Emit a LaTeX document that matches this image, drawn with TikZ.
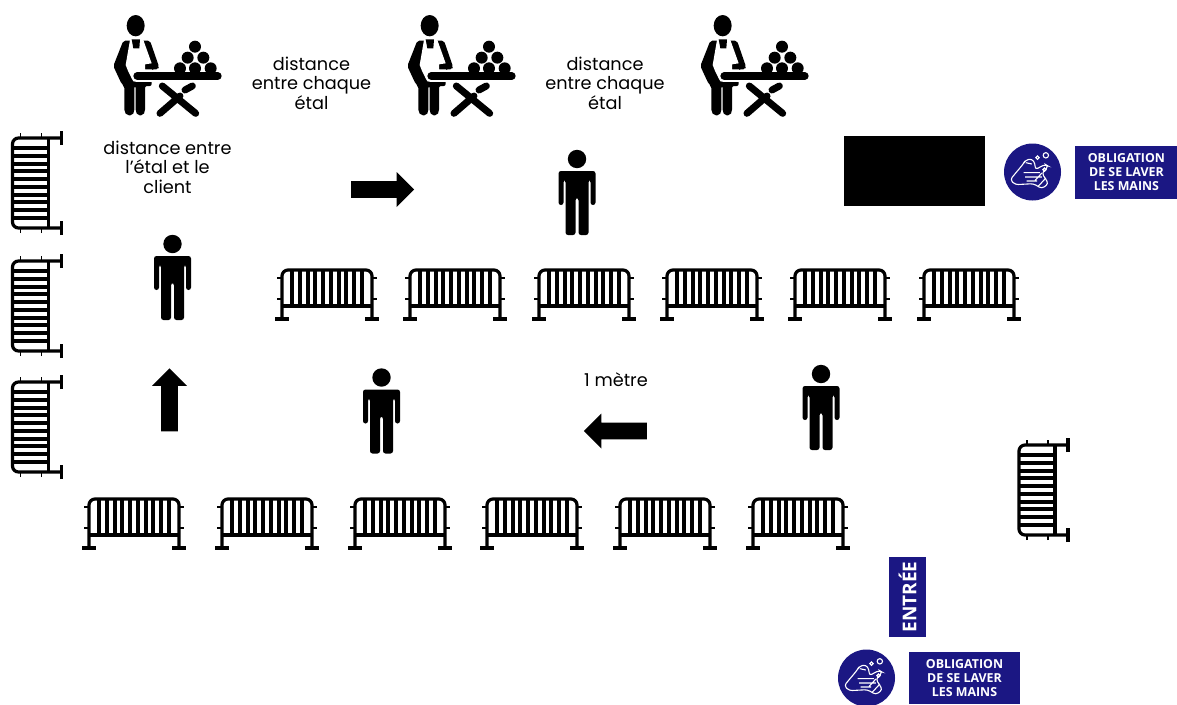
\documentclass[tikz,border=0pt]{standalone}
\usepackage{fontspec}
\setmainfont{Poppins}
\newfontfamily\signfont{Open Sans}
\usepackage{xcolor}
\usepackage{tikz}
\usetikzlibrary{shapes.arrows,positioning}
\definecolor{signblue}{HTML}{1B1783}

\tikzset{
    barrier/.pic={
        \draw[line width=3.2pt, rounded corners=6pt] (-45,24) -- (-45,-25) -- (45,-25) -- (45,24);
        \draw[line width=3.2pt] (-45,11) -- (45,11);
        \draw[line width=4pt] (-35,-25) -- (-35,11) (-27.2,-25) -- (-27.2,11) (-19.4,-25) -- (-19.4,11)
            (-11.6,-25) -- (-11.6,11) (-3.9,-25) -- (-3.9,11) (3.9,-25) -- (3.9,11) (11.6,-25) -- (11.6,11)
            (19.4,-25) -- (19.4,11) (27.2,-25) -- (27.2,11) (35,-25) -- (35,11);
        \draw[line width=3.2pt] (-52,24) -- (-38,24) (38,24) -- (52,24);
        \draw[line width=1.4pt] (-50,-17) -- (-45,-17) (-50,4) -- (-45,4) (45,-17) -- (50,-17) (45,4) -- (50,4);
    },
    person/.pic={
        \fill (0,-34) circle (9.2);
        \fill[rounded corners=2.5pt] (-18.5,12) -- (-18.5,-22) -- (18.5,-22) -- (18.5,12) -- (13.5,12)
            -- (13.5,-13) -- (11.5,-13) -- (11.5,42) -- (1.5,42) -- (1.5,5) -- (-1.5,5) -- (-1.5,42)
            -- (-11.5,42) -- (-11.5,-13) -- (-13.5,-13) -- (-13.5,12) -- cycle;
    },
    vendor/.pic={
        \begin{scope}[scale=1/3]
        \fill (92,47) ellipse (27 and 32);
        \fill[rounded corners=2pt] (55,92) -- (135,92) -- (162,170) -- (160,178) -- (140,178) -- (140,228) -- (120,228)
            -- (120,305) -- (114,316) -- (98,316) -- (92,305) -- (92,228) -- (88,228) -- (88,305) -- (82,316)
            -- (66,316) -- (58,305) -- (58,228) -- (50,222) -- (35,190) -- (25,168) -- cycle;
        \fill[white] (75,90) -- (62,165) -- (70,185) -- (85,214) -- (141,214) -- (141,178) -- (120,178) -- (120,163)
            -- (140,160) -- (115,90) -- cycle;
        \fill (80,88) -- (105,88) -- (103,115) -- (85,115) -- cycle;
        \draw[white, line width=12pt, line cap=round] (97,198) -- (160,198);
        \fill (225,175) circle (18) (270,175) circle (18) (317,175) circle (18)
            (248,143) circle (18) (295,143) circle (18) (270,110) circle (18);
        \draw[line width=8pt, line cap=round] (97,198) -- (338,198);
        \draw[line width=7pt, line cap=round] (172,228) -- (272,310) (165,310) -- (225,258) (240,240) -- (262,228);
        \end{scope}
    },
    hands/.pic={
        \begin{scope}[scale=1/3, white, line width=1.1pt, rounded corners=3pt]
        \draw (-67,23) -- (-27,-25) -- (-22,-35) -- (-2,-40) -- (8,-25) -- (8,-7) -- (38,-23) -- (48,-17) -- (28,3) -- (48,35)
            -- (28,50) -- (3,35) -- (-52,38) -- cycle;
        \draw (-20,-28) -- (-2,-24) (-27,2) -- (22,2) (-22,15) -- (28,15) (-18,27) -- (14,27) (28,3) -- (8,25) (40,18) -- (18,42);
        \draw (15,-43) circle (5) (40,-50) circle (8) (36,-7) circle (5);
        \end{scope}
    }
}

\begin{document}
\begin{tikzpicture}[
    x=1pt, y=-1pt,
    infotext/.style={font=\fontsize{17.7}{19.6}\selectfont, align=center, inner sep=0pt},
    sign/.style={fill=signblue, text=white, font=\signfont\bfseries\fontsize{12.4}{13.6}\selectfont, align=center, inner sep=0pt},
    signround/.style={circle, fill=signblue, minimum size=57pt, inner sep=0pt},
    bigarrow/.style={single arrow, fill=black, minimum height=63pt, minimum width=35pt,
        single arrow head extend=9pt, single arrow head indent=0pt, inner sep=8pt}
]
\useasboundingbox (0,0) rectangle (1177,704);

% stalls
\pic (stallA) at (105,10) {vendor};
\pic (stallB) at (399,10) {vendor};
\pic (stallC) at (692,10) {vendor};

\node[infotext] (gapA) at (311.5,83) {distance\\entre chaque\\étal};
\node[infotext] (gapB) at (605,83) {distance\\entre chaque\\étal};
\node[infotext] (gapC) at (167.5,167) {distance entre\\l’étal et le\\client};
\node[infotext] (metre) at (616,380) {1 mètre};

% queue
\pic (walkerA) at (172.5,278) {person};
\pic (walkerB) at (577,193) {person};
\pic (walkerC) at (381.5,411.5) {person};
\pic (walkerD) at (821,408) {person};

\node[bigarrow] (arrowR) at (378.5,189.5) {};
\node[bigarrow, shape border rotate=90] (arrowU) at (169.5,404) {};
\node[bigarrow, shape border rotate=180] (arrowL) at (619.5,431) {};

% barriers
\pic (sideA) at (37.5,183) [rotate=90] {barrier};
\pic (sideB) at (37.5,306) [rotate=90] {barrier};
\pic (sideC) at (37.5,427) [rotate=90] {barrier};
\pic (sideD) at (1044,490) [rotate=90] {barrier};

\pic (upperA) at (327,295) {barrier};
\pic (upperB) at (455,295) {barrier};
\pic (upperC) at (584,295) {barrier};
\pic (upperD) at (712,295) {barrier};
\pic (upperE) at (840,295) {barrier};
\pic (upperF) at (969,295) {barrier};

\pic (lowerA) at (134,524) {barrier};
\pic (lowerB) at (267,524) {barrier};
\pic (lowerC) at (400,524) {barrier};
\pic (lowerD) at (532,524) {barrier};
\pic (lowerE) at (665,524) {barrier};
\pic (lowerF) at (798,524) {barrier};

% signs
\node[fill=black, minimum width=141pt, minimum height=70pt, inner sep=0pt] (blackbox) at (914.5,171) {};

\node[signround] (washA) at (1032.5,172) {};
\pic at (washA.center) {hands};
\node[sign, minimum width=102pt, minimum height=53pt, right=14pt of washA] (obligA) {OBLIGATION\\DE SE LAVER\\LES MAINS};

\node[signround] (washB) at (866.5,678) {};
\pic at (washB.center) {hands};
\node[sign, minimum width=111pt, minimum height=52pt] (obligB) at (964.5,678) {OBLIGATION\\DE SE LAVER\\LES MAINS};

\node[sign, minimum width=37pt, minimum height=80pt] (entree) at (907.5,597) {\rotatebox{90}{\fontsize{19}{21}\selectfont ENTRÉE}};
\end{tikzpicture}
\end{document}
